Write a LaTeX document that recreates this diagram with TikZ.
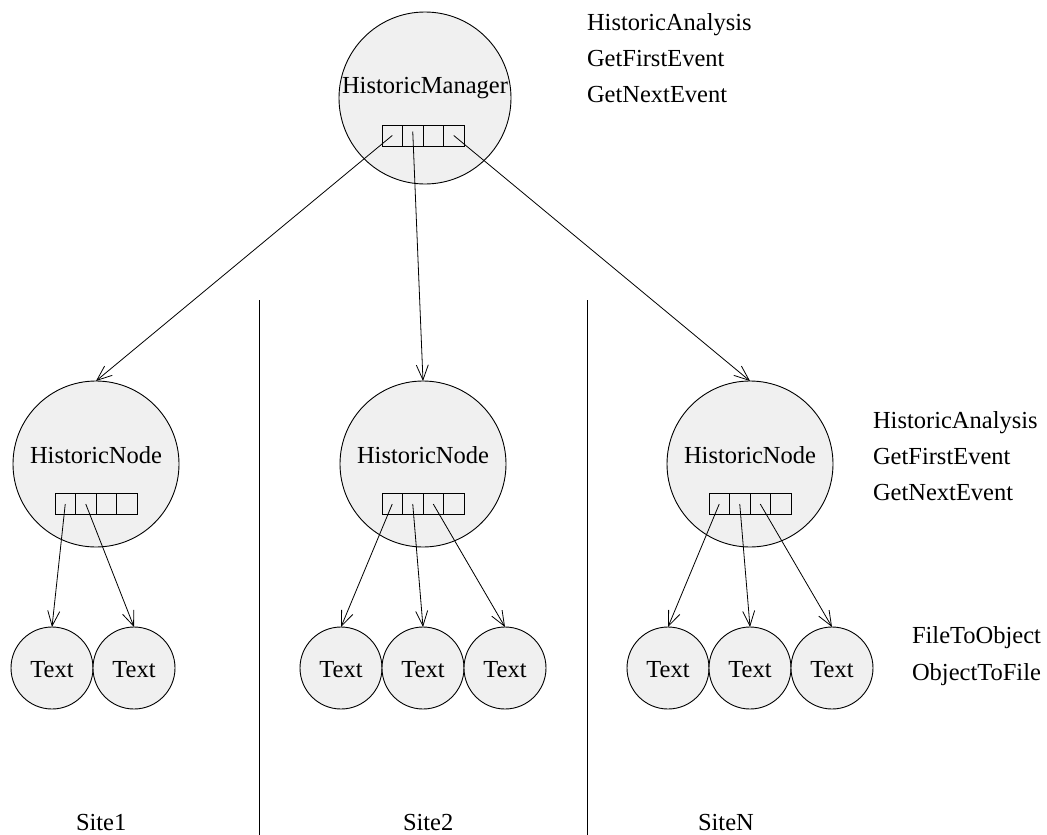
\documentclass[tikz,border=0pt]{standalone}
\usepackage{fontspec}
\setmainfont{Liberation Serif}
\usetikzlibrary{arrows.meta}
\definecolor{bubble}{RGB}{240,240,240}
\begin{document}
\begin{tikzpicture}[x=1pt,y=-1pt,
  line width=0.9pt,
  every node/.style={font=\fontsize{24.5}{29}\selectfont, inner sep=0pt, outer sep=0pt},
  bigcircle/.style={circle, draw, fill=bubble, minimum size=166pt},
  mgrcircle/.style={circle, draw, fill=bubble, minimum size=172pt},
  smallcircle/.style={circle, draw, fill=bubble, minimum size=82pt},
  cell/.style={rectangle, draw, fill=bubble, minimum width=20.5pt, minimum height=21pt},
  link/.style={-{Straight Barb[length=15pt,width=12pt]}, line width=0.8pt},
  note/.style={anchor=base west},
  sitelabel/.style={anchor=base west},
  divider/.style={line width=0.9pt}]
\useasboundingbox (0,0) rectangle (1047,835);

% manager
\node[mgrcircle] (mgr) at (425,98) {};
\node (mgrtext) at (425,88) {HistoricManager};
\foreach \i/\x in {1/392.25,2/412.75,3/433.25,4/453.75}
  \node[cell] (m\i) at (\x,135.5) {};

% historic nodes
\foreach \n/\cx in {1/96,2/423,3/750}{
  \node[bigcircle] (hn\n) at (\cx,464) {};
  \node (hntext\n) at (\cx,455) {HistoricNode};
  \foreach \i in {1,2,3,4}
    \node[cell] (c\n\i) at ({\cx-51.25+20.5*\i},504) {};
}

% text leaves
\node[smallcircle] (t11) at (52,668) {};
\node[smallcircle] (t12) at (134,668) {};
\node[smallcircle] (t21) at (341,668) {};
\node[smallcircle] (t22) at (423,668) {};
\node[smallcircle] (t23) at (505,668) {};
\node[smallcircle] (t31) at (668,668) {};
\node[smallcircle] (t32) at (750,668) {};
\node[smallcircle] (t33) at (832,668) {};
\foreach \t in {t11,t12,t21,t22,t23,t31,t32,t33}
  \node (\t l) at ([yshift=-2pt]\t.center) {Text};

% connectors from the manager
\draw[link] (m1.center) -- (hn1.north);
\draw[link] ([yshift=4pt]m2.center) -- (hn2.north);
\draw[link] (m4.center) -- (hn3.north);

% connectors from the historic nodes
\draw[link] (c11.center) -- (t11.north);
\draw[link] (c12.center) -- (t12.north);
\draw[link] (c21.center) -- (t21.north);
\draw[link] (c22.center) -- (t22.north);
\draw[link] (c23.center) -- (t23.north);
\draw[link] (c31.center) -- (t31.north);
\draw[link] (c32.center) -- (t32.north);
\draw[link] (c33.center) -- (t33.north);

% site dividers
\coordinate (d1a) at (259,300);
\coordinate (d1b) at (259,835);
\coordinate (d2a) at (587,300);
\coordinate (d2b) at (587,835);
\draw[divider] (d1a) -- (d1b);
\draw[divider] (d2a) -- (d2b);

% operation lists
\node[note] (ma1) at (587,30) {HistoricAnalysis};
\node[note] (ma2) at (587,66) {GetFirstEvent};
\node[note] (ma3) at (587,102) {GetNextEvent};
\node[note] (na1) at (873,428) {HistoricAnalysis};
\node[note] (na2) at (873,464) {GetFirstEvent};
\node[note] (na3) at (873,500) {GetNextEvent};
\node[note] (fo1) at (912,643) {FileToObject};
\node[note] (fo2) at (912,680) {ObjectToFile};

% site names
\node[sitelabel] (s1) at (76,830) {Site1};
\node[sitelabel] (s2) at (403,830) {Site2};
\node[sitelabel] (s3) at (698,830) {SiteN};
\end{tikzpicture}
\end{document}
